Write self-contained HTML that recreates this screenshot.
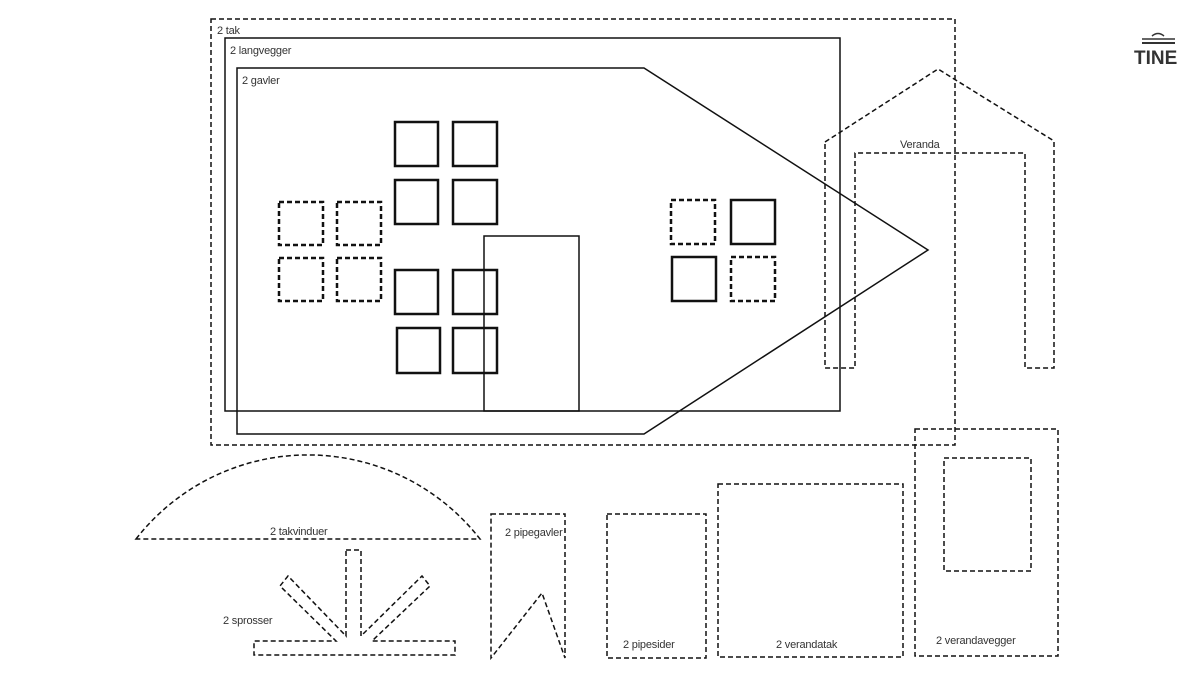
<!DOCTYPE html>
<html><head><meta charset="utf-8"><style>
html,body{margin:0;padding:0;background:#fff;}
svg{display:block;}
text{font-family:"Liberation Sans",sans-serif;font-size:11px;fill:#333;letter-spacing:-0.2px;}
</style></head><body>
<svg width="1204" height="677" viewBox="0 0 1204 677" xmlns="http://www.w3.org/2000/svg">
<g fill="none" stroke="#111" stroke-width="1.5">
<rect x="211" y="19" width="744" height="426" stroke-dasharray="5,3"/>
<rect x="225" y="38" width="615" height="373"/>
<polygon points="237,68 644,68 928,250 644,434 237,434"/>
<rect x="484" y="236" width="95" height="175"/>
<g stroke-width="2.5">
<rect x="395" y="122" width="43" height="44"/><rect x="453" y="122" width="44" height="44"/>
<rect x="395" y="180" width="43" height="44"/><rect x="453" y="180" width="44" height="44"/>
<rect x="395" y="270" width="43" height="44"/><rect x="453" y="270" width="44" height="44"/>
<rect x="397" y="328" width="43" height="45"/><rect x="453" y="328" width="44" height="45"/>
<rect x="731" y="200" width="44" height="44"/><rect x="672" y="257" width="44" height="44"/>
</g>
<g stroke-width="2.5" stroke-dasharray="5,3">
<rect x="279" y="202" width="44" height="43"/><rect x="337" y="202" width="44" height="43"/>
<rect x="279" y="258" width="44" height="43"/><rect x="337" y="258" width="44" height="43"/>
<rect x="671" y="200" width="44" height="44"/><rect x="731" y="257" width="44" height="44"/>
</g>
<g stroke-dasharray="5,3">
<polygon points="825,142 938,69 1054,141 1054,368 1025,368 1025,153 855,153 855,368 825,368"/>
<path d="M136,539 A218,218 0 0 1 480,539 Z"/>
<polygon points="346,550 361,550 361,636 422,576 430,586 372,641 455,641 455,655 254,655 254,641 336,641 280,586 288,576 346,636"/>
<polygon points="491,514 565,514 565,658 542,593 491,658"/>
<rect x="607" y="514" width="99" height="144"/>
<rect x="718" y="484" width="185" height="173"/>
<rect x="915" y="429" width="143" height="227"/>
<rect x="944" y="458" width="87" height="113"/>
</g>
</g>
<text x="217" y="34">2 tak</text>
<text x="230" y="54">2 langvegger</text>
<text x="242" y="84">2 gavler</text>
<text x="900" y="148">Veranda</text>
<text x="270" y="535">2 takvinduer</text>
<text x="223" y="624">2 sprosser</text>
<text x="505" y="536">2 pipegavler</text>
<text x="623" y="648">2 pipesider</text>
<text x="776" y="648">2 verandatak</text>
<text x="936" y="644">2 verandavegger</text>
<g fill="none" stroke="#333">
<line x1="1142" y1="43" x2="1175" y2="43" stroke-width="2"/>
<line x1="1142" y1="39" x2="1175" y2="39" stroke-width="1.5"/>
<path d="M1152,36 Q1158,31 1164,36" stroke-width="1.5"/>
</g>
<text x="1134" y="64" style="font-size:19px;font-weight:bold;fill:#333;letter-spacing:0">TINE</text>
</svg>
</body></html>
